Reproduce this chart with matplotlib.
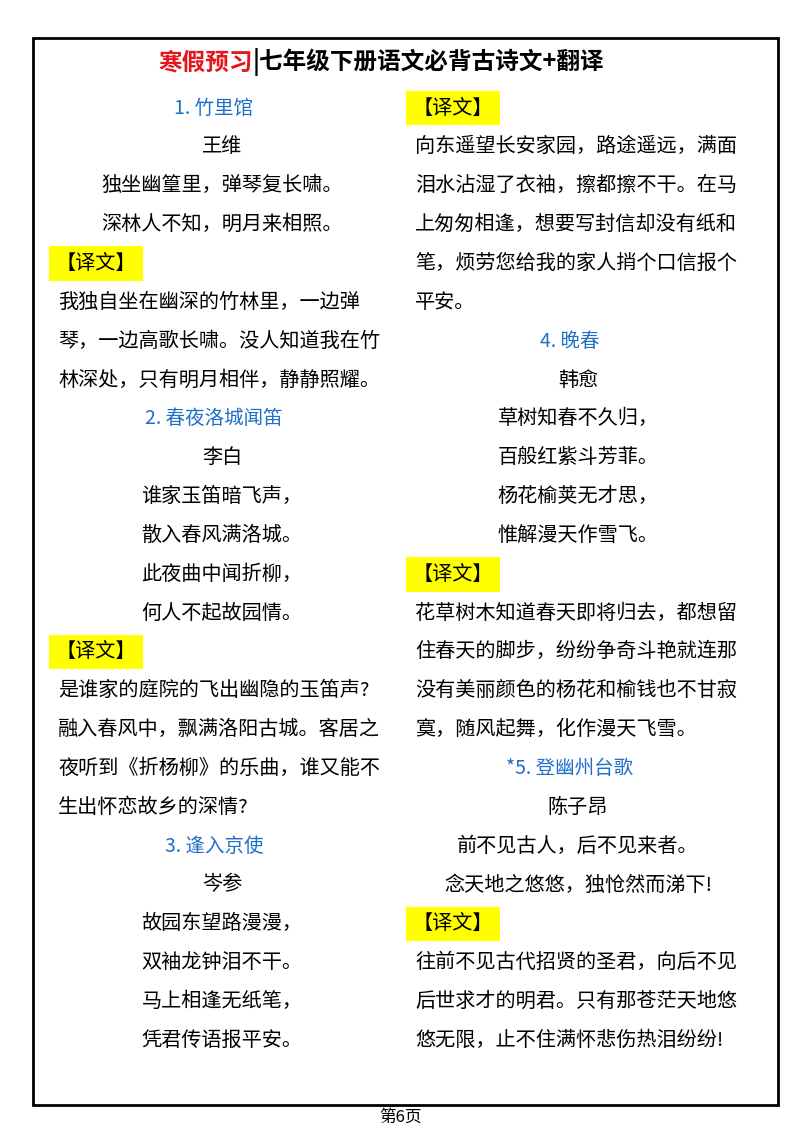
import matplotlib.pyplot as plt
from matplotlib.patches import Rectangle

plt.rcParams['font.family'] = ['Noto Sans CJK SC', 'DejaVu Sans']

TITLE_RED = "寒假预习"
TITLE_BLACK = "|七年级下册语文必背古诗文+翻译"
FOOTER = "第6页"

# (kind, text) per line; kinds: title, author, verse, label, prose
LEFT_LINES = [
    ("title", "1. 竹里馆"),
    ("author", "王维"),
    ("verse", "独坐幽篁里，弹琴复长啸。"),
    ("verse", "深林人不知，明月来相照。"),
    ("label", "【译文】"),
    ("prose", "我独自坐在幽深的竹林里，一边弹"),
    ("prose", "琴，一边高歌长啸。没人知道我在竹"),
    ("prose", "林深处，只有明月相伴，静静照耀。"),
    ("title", "2. 春夜洛城闻笛"),
    ("author", "李白"),
    ("verse", "谁家玉笛暗飞声，"),
    ("verse", "散入春风满洛城。"),
    ("verse", "此夜曲中闻折柳，"),
    ("verse", "何人不起故园情。"),
    ("label", "【译文】"),
    ("prose", "是谁家的庭院的飞出幽隐的玉笛声?"),
    ("prose", "融入春风中，飘满洛阳古城。客居之"),
    ("prose", "夜听到《折杨柳》的乐曲，谁又能不"),
    ("prose", "生出怀恋故乡的深情?"),
    ("title", "3. 逢入京使"),
    ("author", "岑参"),
    ("verse", "故园东望路漫漫，"),
    ("verse", "双袖龙钟泪不干。"),
    ("verse", "马上相逢无纸笔，"),
    ("verse", "凭君传语报平安。"),
]

RIGHT_LINES = [
    ("label", "【译文】"),
    ("prose", "向东遥望长安家园，路途遥远，满面"),
    ("prose", "泪水沾湿了衣袖，擦都擦不干。在马"),
    ("prose", "上匆匆相逢，想要写封信却没有纸和"),
    ("prose", "笔，烦劳您给我的家人捎个口信报个"),
    ("prose", "平安。"),
    ("title", "4. 晚春"),
    ("author", "韩愈"),
    ("verse", "草树知春不久归，"),
    ("verse", "百般红紫斗芳菲。"),
    ("verse", "杨花榆荚无才思，"),
    ("verse", "惟解漫天作雪飞。"),
    ("label", "【译文】"),
    ("prose", "花草树木知道春天即将归去，都想留"),
    ("prose", "住春天的脚步，纷纷争奇斗艳就连那"),
    ("prose", "没有美丽颜色的杨花和榆钱也不甘寂"),
    ("prose", "寞，随风起舞，化作漫天飞雪。"),
    ("title", "*5. 登幽州台歌"),
    ("author", "陈子昂"),
    ("verse", "前不见古人，后不见来者。"),
    ("verse", "念天地之悠悠，独怆然而涕下!"),
    ("label", "【译文】"),
    ("prose", "往前不见古代招贤的圣君，向后不见"),
    ("prose", "后世求才的明君。只有那苍茫天地悠"),
    ("prose", "悠无限，止不住满怀悲伤热泪纷纷!"),
]

BLUE = '#1f6fc8'
FS = 14.5
Y0, PITCH = 108, 38.85


def draw_column(ax, lines, x_left, x_center):
    for i, (kind, text) in enumerate(lines):
        y = Y0 + i * PITCH
        if kind == "title":
            ax.text(x_center - 8, y, text, color=BLUE, fontsize=FS - 0.5, ha='center', va='center')
        elif kind in ("author", "verse"):
            ax.text(x_center, y, text, color='black', fontsize=FS, ha='center', va='center')
        elif kind == "label":
            ax.text(x_left - 2, y, text, color='black', fontsize=FS, ha='left', va='center',
                    bbox=dict(facecolor='#ffff00', edgecolor='none', pad=5))
        else:
            ax.text(x_left, y, text, color='black', fontsize=FS, ha='left', va='center')


fig = plt.figure(figsize=(8, 11.3), dpi=100)
ax = fig.add_axes([0, 0, 1, 1])
ax.set_xlim(0, 800)
ax.set_ylim(1130, 0)
ax.axis('off')

ax.add_patch(Rectangle((33, 38), 745, 1067, fill=False, edgecolor='black', linewidth=2))

ax.text(253, 62, TITLE_RED, color='#e8141b', fontsize=17, fontweight='bold', ha='right', va='center')
ax.text(253, 62, TITLE_BLACK, color='black', fontsize=17, fontweight='bold', ha='left', va='center')

draw_column(ax, LEFT_LINES, 58, 222)
draw_column(ax, RIGHT_LINES, 415, 578)

ax.text(400, 1117, FOOTER, color='black', fontsize=12, ha='center', va='center')

fig.savefig('out.png', dpi=100, facecolor='white')
